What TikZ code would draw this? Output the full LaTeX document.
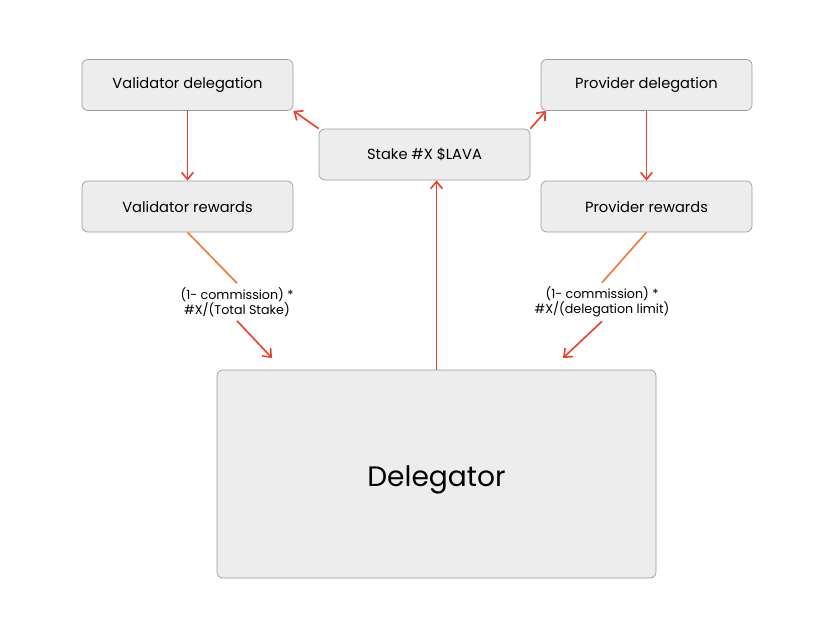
\documentclass[tikz,border=0pt]{standalone}
\usepackage{fontspec}
\setmainfont{Poppins}
\usetikzlibrary{arrows.meta}
\definecolor{boxfill}{HTML}{EDEDED}
\definecolor{boxline}{HTML}{9A9A9A}
\definecolor{lineorange}{HTML}{F07A3A}
\definecolor{linered}{HTML}{E8452C}
\begin{document}
\begin{tikzpicture}[x=0.03cm, y=-0.03cm,
    box/.style={draw=boxline, fill=boxfill, rounded corners=5pt, line width=0.6pt,
      minimum width=211*0.03cm, minimum height=51*0.03cm, font=\fontsize{12.5}{15}\selectfont},
    flow/.style={draw=linered, line width=1.4pt, -{Straight Barb[length=6pt, width=10pt]}},
    feed/.style={draw=lineorange, line width=1.4pt},
    lbl/.style={align=center, font=\fontsize{10.8}{13}\selectfont}]
    \useasboundingbox (0,0) rectangle (836,640);
    \node[box] at (187.5, 85)   (vdel) {Validator delegation};
    \node[box] at (424.5, 154.5) (stake) {Stake \#X \$LAVA};
    \node[box] at (646.5, 85)   (pdel) {Provider delegation};
    \node[box] at (187.5, 206.5) (vrew) {Validator rewards};
    \node[box] at (646.5, 206.5) (prew) {Provider rewards};
    \node[box, minimum width=439*0.03cm, minimum height=208*0.03cm,
      font=\fontsize{24}{28}\selectfont, text depth=0pt] at (436.5, 474) (dlg) {\raisebox{-3pt}{Delegator}};

    \node[lbl] at (237, 302) (vlbl) {(1- commission) *\\\#X/(Total Stake)};
    \node[lbl] at (602, 302) (plbl) {(1- commission) *\\\#X/(delegation limit)};
    \coordinate (vin) at (272, 358);
    \coordinate (pin) at (563, 358);

    \draw[flow] (stake.north west) -- (vdel.south east);
    \draw[flow] (stake.north east) -- (pdel.south east -| 546,0);
    \draw[flow] (vdel.south) -- (vrew.north);
    \draw[flow] (pdel.south) -- (prew.north);
    \draw[flow] (dlg.north -| stake) ++(12,0) coordinate (dtop) -- (dtop |- stake.south);
    \draw[feed] (vrew.south) -- (vlbl.north);
    \draw[feed] (prew.south) -- (plbl.north);
    \draw[flow] (vlbl.south) -- (vin);
    \draw[flow] (plbl.south) -- (pin);
\end{tikzpicture}
\end{document}
